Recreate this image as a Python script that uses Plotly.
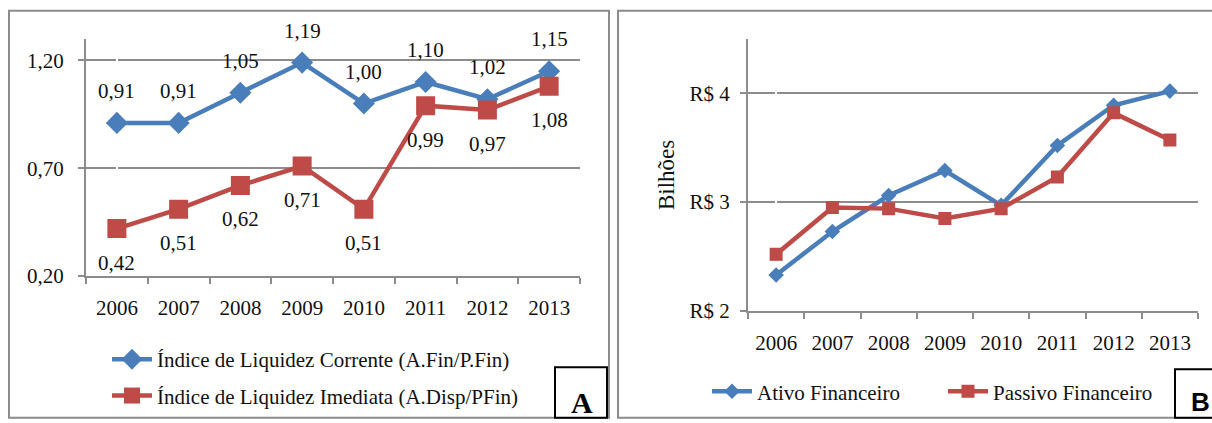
import plotly.graph_objects as go

W, H = 1212, 423

years = ["2006", "2007", "2008", "2009", "2010", "2011", "2012", "2013"]
ilc = [0.91, 0.91, 1.05, 1.19, 1.00, 1.10, 1.02, 1.15]
ili = [0.42, 0.51, 0.62, 0.71, 0.51, 0.99, 0.97, 1.08]
ativo = [2.33, 2.73, 3.06, 3.29, 2.97, 3.52, 3.89, 4.02]
passivo = [2.52, 2.95, 2.94, 2.85, 2.94, 3.23, 3.82, 3.57]

left_ticks = [0.2, 0.7, 1.2]
right_ticks = [2, 3, 4]

name_ilc = "Índice de Liquidez Corrente (A.Fin/P.Fin)"
name_ili = "Índice de Liquidez Imediata (A.Disp/PFin)"
name_at = "Ativo Financeiro"
name_pa = "Passivo Financeiro"

BLUE = "#4A7EBB"
RED = "#BE4B48"
GRID = "#8C8C8C"
SERIF = "Liberation Serif"
TXT = "#111"
FS = 21

xs = list(range(len(years)))


def px(x):
    return x / W


def py(y):
    return 1 - y / H


fig = go.Figure()

fig.add_trace(go.Scatter(x=xs, y=ilc, name=name_ilc, mode="lines+markers",
                         line=dict(color=BLUE, width=4.5),
                         marker=dict(symbol="diamond", size=17, color=BLUE),
                         xaxis="x", yaxis="y", legend="legend", legendgroup="a"))
fig.add_trace(go.Scatter(x=xs, y=ili, name=name_ili, mode="lines+markers",
                         line=dict(color=RED, width=4.5),
                         marker=dict(symbol="square", size=19, color=RED),
                         xaxis="x", yaxis="y", legend="legend", legendgroup="b"))
fig.add_trace(go.Scatter(x=xs, y=ativo, name=name_at, mode="lines+markers",
                         line=dict(color=BLUE, width=4.5),
                         marker=dict(symbol="diamond", size=12, color=BLUE),
                         xaxis="x2", yaxis="y2", legend="legend2"))
fig.add_trace(go.Scatter(x=xs, y=passivo, name=name_pa, mode="lines+markers",
                         line=dict(color=RED, width=4.5),
                         marker=dict(symbol="square", size=13, color=RED),
                         xaxis="x2", yaxis="y2", legend="legend2"))

annotations = []
for xi, v in zip(xs, ilc):
    annotations.append(dict(x=xi, y=v, xref="x", yref="y", text=f"{v:.2f}".replace(".", ","),
                            showarrow=False, yshift=32, font=dict(family=SERIF, size=FS, color=TXT)))
for xi, v in zip(xs, ili):
    annotations.append(dict(x=xi, y=v, xref="x", yref="y", text=f"{v:.2f}".replace(".", ","),
                            showarrow=False, yshift=-34, font=dict(family=SERIF, size=FS, color=TXT)))

annotations.append(dict(x=px(582), y=py(414), xref="paper", yref="paper", text="<b>A</b>",
                        xanchor="center", yanchor="middle", showarrow=False,
                        font=dict(family=SERIF, size=30, color="#000")))
annotations.append(dict(x=px(1189), y=py(414), xref="paper", yref="paper", text="<b>B</b>",
                        xanchor="left", yanchor="middle", showarrow=False,
                        font=dict(family="Liberation Sans", size=26, color="#000")))

shapes = [
    dict(type="rect", xref="paper", yref="paper", x0=px(9), x1=px(609), y0=py(430), y1=py(11),
         line=dict(color=GRID, width=2)),
    dict(type="rect", xref="paper", yref="paper", x0=px(618), x1=px(1220), y0=py(430), y1=py(11),
         line=dict(color=GRID, width=2)),
    dict(type="rect", xref="paper", yref="paper", x0=px(555), x1=px(607), y0=py(430), y1=py(378),
         line=dict(color="#000", width=2), fillcolor="white"),
    dict(type="rect", xref="paper", yref="paper", x0=px(1175), x1=px(1220), y0=py(430), y1=py(380),
         line=dict(color="#000", width=2), fillcolor="white"),
]

tickfont = dict(family=SERIF, size=FS, color=TXT)
xcommon = dict(range=[-0.5, len(years) - 0.5], tickmode="array", tickvals=xs, ticktext=years,
               ticks="", tickangle=0, showline=True, linecolor=GRID, linewidth=2,
               showgrid=False, tickfont=tickfont, fixedrange=True, ticklabelstandoff=12,
               minor=dict(tickmode="linear", tick0=-0.5, dtick=1, ticks="outside", ticklen=6,
                          tickcolor=GRID, tickwidth=2, showgrid=False))
ycommon = dict(ticks="outside", ticklen=6, tickcolor=GRID, tickwidth=2, showline=True,
               linecolor=GRID, linewidth=2, showgrid=True, gridcolor=GRID, gridwidth=2,
               zeroline=False, tickfont=tickfont, fixedrange=True, tickmode="array")

fig.update_layout(
    width=W, height=H, margin=dict(l=0, r=0, t=0, b=0),
    paper_bgcolor="white", plot_bgcolor="white",
    xaxis=dict(domain=[px(86), px(580)], anchor="y", **xcommon),
    yaxis=dict(domain=[py(284), py(40)], anchor="x", range=[0.2, 1.3],
               tickvals=left_ticks, ticktext=[f"{v:.2f}".replace(".", ",") for v in left_ticks],
               ticklabelstandoff=10, **ycommon),
    xaxis2=dict(domain=[px(748), px(1198)], anchor="y2", **xcommon),
    yaxis2=dict(domain=[py(320), py(40)], anchor="x2", range=[2, 4.5],
                tickvals=right_ticks, ticktext=[f"R$ {v}" for v in right_ticks],
                ticklabelstandoff=6,
                title=dict(text="Bilhões", font=dict(family=SERIF, size=23, color=TXT), standoff=8),
                **ycommon),
    legend=dict(x=px(107), y=py(349), xanchor="left", yanchor="top", orientation="v",
                font=dict(family=SERIF, size=FS, color=TXT), bgcolor="rgba(0,0,0,0)",
                itemwidth=40, tracegroupgap=6),
    legend2=dict(x=px(707), y=py(382), xanchor="left", yanchor="top", orientation="h",
                 font=dict(family=SERIF, size=FS, color=TXT), bgcolor="rgba(0,0,0,0)",
                 itemwidth=40, entrywidth=181),
    annotations=annotations,
    shapes=shapes,
    showlegend=True,
)

fig.write_html("out.html", config={"displayModeBar": False},
               post_script="document.body.style.margin='0';document.body.style.overflow='hidden';")
